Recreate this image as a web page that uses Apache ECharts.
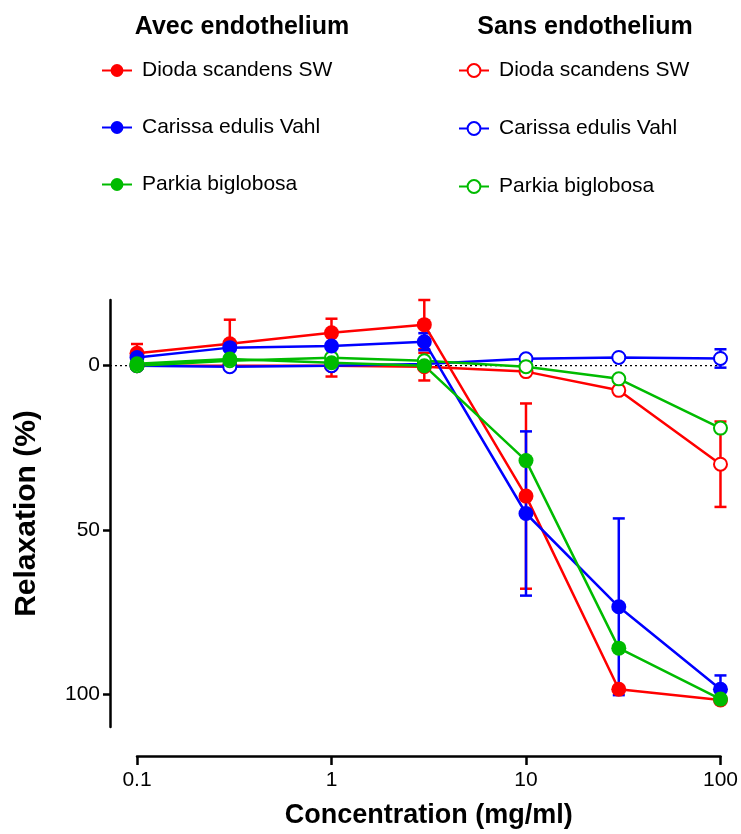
<!DOCTYPE html>
<html>
<head>
<meta charset="utf-8">
<script src="https://cdn.jsdelivr.net/npm/echarts@6/dist/echarts.min.js"></script>
<style>
  html, body { margin: 0; padding: 0; background: #fff; }
  #chart { width: 741px; height: 834px; }
</style>
</head>
<body>
<div id="chart"></div>
<script>
// concentrations (mg/ml)
var conc = [0.1, 0.3, 1, 3, 10, 30, 100];

// avec endothelium (filled)
var avecDioda      = [-3.8, -6.7, -10, -12.5, 39.7, 98.5, 101.8];
var avecDiodaErr   = [2.8, 7.3, 4.3, 7.5, 28.2, 0, 0];
var avecCarissa    = [-2.5, -5.5, -6, -7.3, 45, 73.4, 98.5];
var avecCarissaErr = [0, 0, 0, 2.6, 25, 26.9, 4.2];
var avecParkia     = [-0.6, -2, -0.9, 0, 28.9, 86, 101.5];
var avecParkiaErr  = [0, 0, 0, 0, 0, 0, 0];

// sans endothelium (open)
var sansDioda      = [0, 0, 0, 0.3, 1.8, 7.5, 30];
var sansDiodaErr   = [0, 0, 3.3, 4.2, 0, 0, 13];
var sansCarissa    = [0, 0.3, 0, -0.5, -2.1, -2.5, -2.2];
var sansCarissaErr = [0, 0, 0, 0, 0, 0, 2.8];
var sansParkia     = [0, -1.5, -2.4, -1.5, 0.3, 4, 19];
var sansParkiaErr  = [0, 0, 0, 0, 0, 0, 0];

var names = ['Dioda scandens SW', 'Carissa edulis Vahl', 'Parkia biglobosa'];
var colors = ['#ff0000', '#0000ff', '#00bb00'];
var yTicks = [0, 50, 100];
var xTicks = [0.1, 1, 10, 100];

var FONT = 'Liberation Sans, Arial, sans-serif';

function pairs(ys, errs) {
  var out = [];
  for (var i = 0; i < conc.length; i++) {
    out.push([conc[i], ys[i], errs[i]]);
  }
  return out;
}

function errRender(params, api) {
  var x = api.value(0), y = api.value(1), e = api.value(2);
  if (!e) return null;
  var top = api.coord([x, y - e]);
  var bot = api.coord([x, y + e]);
  var c = api.visual('color');
  var st = { stroke: c, lineWidth: 2.5 };
  var hw = 6;
  return {
    type: 'group',
    children: [
      { type: 'line', shape: { x1: top[0], y1: top[1], x2: bot[0], y2: bot[1] }, style: st },
      { type: 'line', shape: { x1: top[0] - hw, y1: top[1], x2: top[0] + hw, y2: top[1] }, style: st },
      { type: 'line', shape: { x1: bot[0] - hw, y1: bot[1], x2: bot[0] + hw, y2: bot[1] }, style: st }
    ]
  };
}

var groups = [
  { name: names[0] + ' ', ys: sansDioda, errs: sansDiodaErr, color: colors[0], open: true },
  { name: names[1] + ' ', ys: sansCarissa, errs: sansCarissaErr, color: colors[1], open: true },
  { name: names[2] + ' ', ys: sansParkia, errs: sansParkiaErr, color: colors[2], open: true },
  { name: names[0], ys: avecDioda, errs: avecDiodaErr, color: colors[0], open: false },
  { name: names[1], ys: avecCarissa, errs: avecCarissaErr, color: colors[1], open: false },
  { name: names[2], ys: avecParkia, errs: avecParkiaErr, color: colors[2], open: false }
];

var series = [];

// dotted zero line, in its own grid that starts at the y axis line
series.push({
  type: 'line',
  xAxisIndex: 1,
  yAxisIndex: 1,
  data: [[0, 0], [1, 0]],
  symbol: 'none',
  silent: true,
  lineStyle: { color: '#000', width: 1.2, type: [2, 3] },
  z: 1
});

groups.forEach(function (g) {
  series.push({
    type: 'custom',
    name: g.name + '_err',
    xAxisIndex: 0,
    yAxisIndex: 0,
    renderItem: errRender,
    encode: { x: 0, y: 1 },
    itemStyle: { color: g.color },
    data: pairs(g.ys, g.errs),
    silent: true,
    z: 2
  });
});

groups.forEach(function (g) {
  series.push({
    type: 'line',
    name: g.name,
    xAxisIndex: 0,
    yAxisIndex: 0,
    data: pairs(g.ys, g.errs).map(function (d) { return [d[0], d[1]]; }),
    symbol: g.open ? 'emptyCircle' : 'circle',
    symbolSize: g.open ? 13 : 15,
    showAllSymbol: true,
    color: g.color,
    lineStyle: { color: g.color, width: 2.5 },
    itemStyle: { color: g.color, borderColor: g.color, borderWidth: g.open ? 2.2 : 0 },
    z: 3
  });
});

var legendText = { fontFamily: FONT, fontSize: 21, color: '#000', padding: [0, 0, 0, 5] };

var myChart = echarts.init(document.getElementById('chart'), null, { renderer: 'canvas' });

var option = {
  backgroundColor: '#fff',
  animation: false,
  title: [
    { text: 'Avec endothelium', left: 237, top: 10, textAlign: 'center',
      textStyle: { fontFamily: FONT, fontSize: 25, fontWeight: 'bold', color: '#000' } },
    { text: 'Sans endothelium', left: 580, top: 10, textAlign: 'center',
      textStyle: { fontFamily: FONT, fontSize: 25, fontWeight: 'bold', color: '#000' } }
  ],
  legend: [
    { orient: 'vertical', left: 96, top: 55, itemWidth: 30, itemHeight: 16, itemGap: 36,
      data: [names[0], names[1], names[2]], textStyle: legendText, selectedMode: false },
    { orient: 'vertical', left: 453, top: 55, itemWidth: 30, itemHeight: 16, itemGap: 37,
      data: [names[0] + ' ', names[1] + ' ', names[2] + ' '], textStyle: legendText, selectedMode: false }
  ],
  grid: [
    { left: 137, right: 20, top: 300, bottom: 107 },
    { left: 110, right: 20, top: 300, bottom: 107 }
  ],
  xAxis: [
    {
      type: 'log', logBase: 10, min: 0.1, max: 100, gridIndex: 0,
      offset: 29,
      name: 'Concentration (mg/ml)', nameLocation: 'middle', nameGap: 46,
      nameTextStyle: { fontFamily: FONT, fontSize: 27, fontWeight: 'bold', color: '#000' },
      axisLine: { show: true, onZero: false, lineStyle: { color: '#000', width: 2.5 } },
      axisTick: { show: true, length: 9, lineStyle: { color: '#000', width: 2.5 }, customValues: xTicks },
      minorTick: { show: false },
      splitLine: { show: false },
      axisLabel: { color: '#000', fontSize: 21, margin: 14, customValues: xTicks,
        fontFamily: FONT,
        formatter: function (v) { return String(v); } }
    },
    { type: 'value', min: 0, max: 1, gridIndex: 1, show: false }
  ],
  yAxis: [
    {
      type: 'value', inverse: true, min: -20, max: 110, gridIndex: 0,
      offset: 27,
      name: 'Relaxation (%)', nameLocation: 'middle', nameGap: 68, nameRotate: 90,
      nameTextStyle: { fontFamily: FONT, fontSize: 30, fontWeight: 'bold', color: '#000' },
      axisLine: { show: true, onZero: false, lineStyle: { color: '#000', width: 2.5 } },
      axisTick: { show: true, length: 7, lineStyle: { color: '#000', width: 2.5 }, customValues: yTicks },
      splitLine: { show: false },
      axisLabel: { color: '#000', fontSize: 21, margin: 10, customValues: yTicks, fontFamily: FONT }
    },
    { type: 'value', inverse: true, min: -20, max: 110, gridIndex: 1, show: false }
  ],
  series: series
};

myChart.setOption(option);
</script>
</body>
</html>
